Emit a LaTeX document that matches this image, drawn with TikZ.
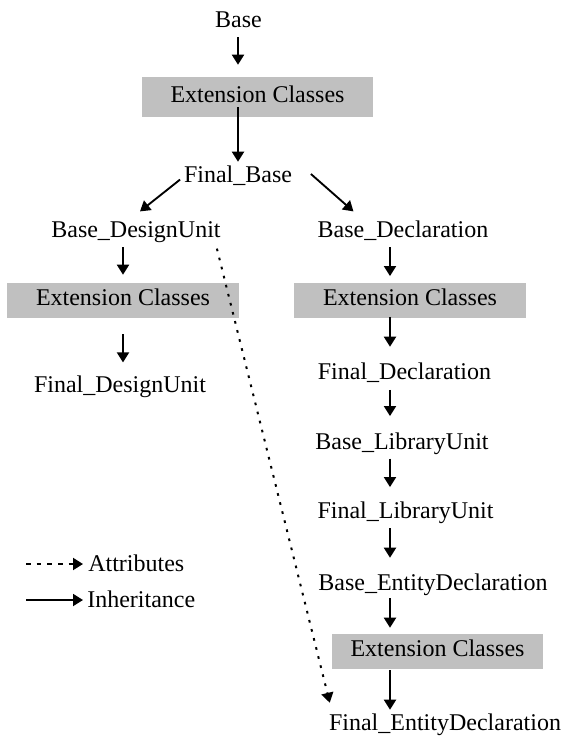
\documentclass[tikz,border=0pt]{standalone}
\usepackage{fontspec}
\setmainfont{Liberation Serif}
\usepackage{tikz}
\usetikzlibrary{arrows.meta}
\definecolor{extgray}{RGB}{192,192,192}
\tikzstyle{cls} = [inner sep=0, text height=12pt, text depth=4pt, anchor=base, font=\fontsize{18pt}{20pt}\selectfont]
\tikzstyle{ext} = [rectangle, fill=extgray, inner sep=0, text height=12pt, text depth=4pt, minimum width=174pt, minimum height=26.25pt, font=\fontsize{18pt}{20pt}\selectfont]
\tikzstyle{inherit} = [line width=1.4pt, -{Triangle[length=7.5pt,width=9pt]}]
\tikzstyle{attrib} = [line width=1.5pt, dash pattern=on 2pt off 5pt, -{Triangle[length=7.5pt,width=9pt]}]

\begin{document}
\begin{tikzpicture}[x=0.75pt, y=-0.75pt]
  \useasboundingbox (0,0) rectangle (579,736);

  % top part
  \node (base) [cls] at (238.5,27) {Base};
  \node (ext1) [ext, minimum width=173.25pt, minimum height=30pt] at (257.5,97) {Extension Classes};
  \node (fbase) [cls] at (238,182) {Final\_Base};

  % left branch
  \node (bdu) [cls] at (136,237) {Base\_DesignUnit};
  \node (ext2) [ext] at (123,300.5) {Extension Classes};
  \node (fdu) [cls] at (120,392) {Final\_DesignUnit};

  % right branch
  \coordinate (rcol) at (390,0);
  \node (bdecl) [cls] at (403,237) {Base\_Declaration};
  \node (ext3) [ext] at (410,300.5) {Extension Classes};
  \node (fdecl) [cls] at (404.5,379) {Final\_Declaration};
  \node (blu) [cls] at (402,449) {Base\_LibraryUnit};
  \node (flu) [cls] at (405.5,518) {Final\_LibraryUnit};
  \node (bed) [cls] at (433,590) {Base\_EntityDeclaration};
  \node (ext4) [ext, minimum width=158.25pt] at (437.5,651.5) {Extension Classes};
  \node (fed) [cls] at (445,730) {Final\_EntityDeclaration};

  % inheritance arrows
  \draw[inherit, shorten <=3.5pt, shorten >=9pt] (fbase |- base.south) -- (fbase |- ext1.north);
  \draw[inherit, shorten <=-7.5pt, shorten >=3pt] (fbase |- ext1.south) -- (fbase.north);
  \draw[inherit, shorten <=3.5pt] (fbase.west) -- ([xshift=3pt,yshift=7pt]bdu.north);
  \draw[inherit] ([xshift=14pt,yshift=2pt]fbase.east) -- ([xshift=27pt,yshift=7pt]bdecl.north west);
  \draw[inherit, shorten <=3.5pt, shorten >=6pt] (ext2.north |- bdu.south) -- (ext2.north);
  \draw[inherit, shorten <=12pt, shorten >=10pt] (ext2.south) -- (ext2.south |- fdu.north);
  \draw[inherit, shorten <=3.5pt, shorten >=5pt] (rcol |- bdecl.south) -- (rcol |- ext3.north);
  \draw[inherit, shorten <=-1pt, shorten >=12pt] (rcol |- ext3.south) -- (rcol |- fdecl.north);
  \draw[inherit, shorten <=4pt, shorten >=12.5pt] (rcol |- fdecl.south) -- (rcol |- blu.north);
  \draw[inherit, shorten <=3pt, shorten >=11pt] (rcol |- blu.south) -- (rcol |- flu.north);
  \draw[inherit, shorten <=3.5pt, shorten >=12pt] (rcol |- flu.south) -- (rcol |- bed.north);
  \draw[inherit, shorten <=2pt, shorten >=4.5pt] (rcol |- bed.south) -- (rcol |- ext4.north);
  \draw[inherit, shorten <=0.75pt, shorten >=3pt] (rcol |- ext4.south) -- (rcol |- fed.north);

  % attribute
  \draw[attrib] ([xshift=-3pt,yshift=-4.5pt]bdu.south east) -- ([xshift=0.75pt,yshift=8.25pt]fed.north west);

  % legend
  \coordinate (la) at (26,564);
  \coordinate (li) at (26,600);
  \node (attrkey) [cls, anchor=base west] at (88,571) {Attributes};
  \node (inhkey) [cls, anchor=base west] at (87,607) {Inheritance};
  \draw[attrib, dash pattern=on 3.5pt off 4.5pt, shorten >=3.75pt] (la) -- (la -| attrkey.west);
  \draw[inherit, shorten >=3pt] (li) -- (li -| inhkey.west);
\end{tikzpicture}
\end{document}
